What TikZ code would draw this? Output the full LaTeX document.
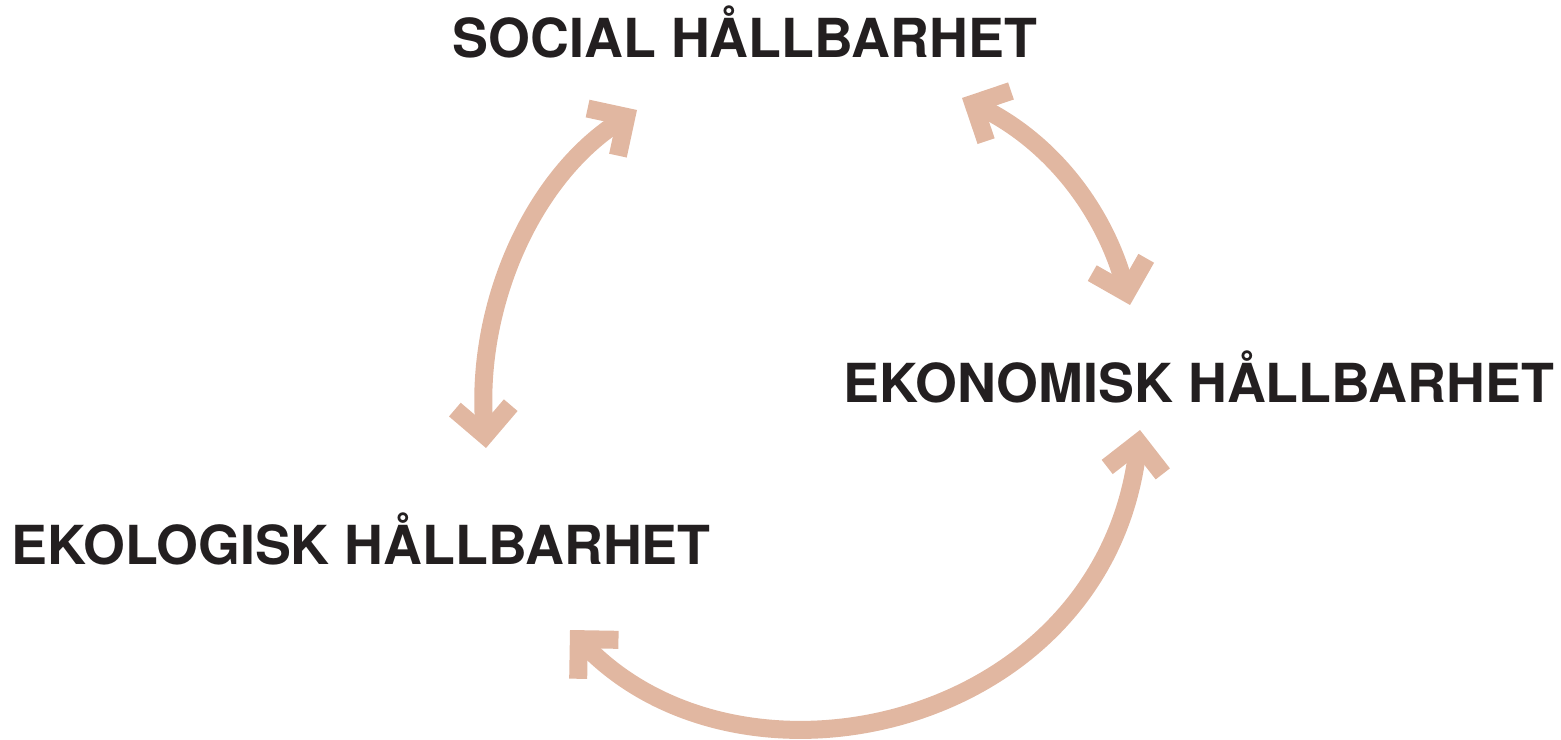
\documentclass[tikz,border=0pt]{standalone}
\usepackage{fontspec}
\setmainfont{TeX Gyre Heros}
\usetikzlibrary{arrows.meta}

\definecolor{linkcolor}{HTML}{E1B7A1}
\definecolor{labelcolor}{HTML}{231F20}

\tikzset{pillar label/.style={font=\bfseries\fontsize{15.3}{18}\selectfont,text=labelcolor,inner sep=0pt,anchor=base},
link/.style={line width=0.18cm,draw=linkcolor,{Straight Barb[length=0.28cm,width=0.56cm]}-{Straight Barb[length=0.28cm,width=0.56cm]}}}

\begin{document}
\begin{tikzpicture}[x=0.01cm,y=0.01cm]
\useasboundingbox (0,0) rectangle (1561,739);

%% labels
\node [pillar label] (social) at (745,681) {SOCIAL HÅLLBARHET};
\node [pillar label] (ekonomisk) at (1199,337) {EKONOMISK HÅLLBARHET};
\node [pillar label] (ekologisk) at (361,175) {EKOLOGISK HÅLLBARHET};

%% arrow ends
\coordinate (ekolU) at (486,291);
\coordinate (socL) at (637,629);
\coordinate (socR) at (962,641);
\coordinate (ekonU) at (1130,434);
\coordinate (ekonD) at (1140,309);
\coordinate (ekolD) at (570,109);

%% links
\draw [link] (ekolU) .. controls (475,430) and (530,560) .. (socL);
\draw [link] (socR) .. controls (1055,595) and (1105,525) .. (ekonU);
\draw [link] (ekolD) .. controls (744,-71) and (1103,11) .. (ekonD);

\end{tikzpicture}
\end{document}
